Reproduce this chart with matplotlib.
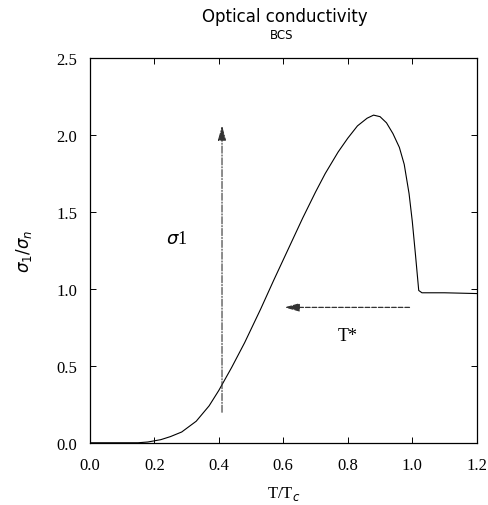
import matplotlib.pyplot as plt

# sigma_1 / sigma_n
t_ratio = [0.00, 0.10, 0.15, 0.18, 0.22, 0.25, 0.285, 0.33, 0.37, 0.40, 0.44,
           0.48, 0.53, 0.57, 0.61, 0.66, 0.70, 0.73, 0.77, 0.80, 0.83, 0.86,
           0.88, 0.90, 0.92, 0.94, 0.96, 0.975, 0.99, 1.00, 1.01, 1.02,
           1.03, 1.10, 1.20]
sigma = [0.00, 0.00, 0.00, 0.005, 0.02, 0.04, 0.07, 0.14, 0.24, 0.34, 0.49,
         0.65, 0.87, 1.055, 1.235, 1.46, 1.63, 1.75, 1.89, 1.98, 2.06, 2.11,
         2.13, 2.12, 2.08, 2.01, 1.92, 1.81, 1.62, 1.44, 1.22, 0.99,
         0.975, 0.975, 0.97]

plt.rcParams['font.family'] = 'Liberation Serif'
fig = plt.figure(figsize=(4.88, 5.06), dpi=100)
ax = fig.add_axes([0.184, 0.123, 0.793, 0.760])

ax.plot(t_ratio, sigma, color='black', lw=0.8)

# arrows and labels
ax.annotate('', xy=(0.41, 2.08), xytext=(0.41, 0.18),
            arrowprops=dict(arrowstyle='-|>,head_length=0.9,head_width=0.25',
                            color='#333333', lw=0.8, linestyle='-.'))
ax.annotate('', xy=(0.595, 0.88), xytext=(1.0, 0.88),
            arrowprops=dict(arrowstyle='-|>,head_length=0.9,head_width=0.25',
                            color='#333333', lw=0.9, linestyle='--'))
ax.text(0.27, 1.33, r'$\sigma$1', fontsize=13, ha='center', va='center')
ax.text(0.80, 0.70, 'T*', fontsize=13, ha='center', va='center')

ax.set_xlim(0, 1.2)
ax.set_ylim(0, 2.5)
ax.set_xticks([0.0, 0.2, 0.4, 0.6, 0.8, 1.0, 1.2])
ax.set_yticks([0.0, 0.5, 1.0, 1.5, 2.0, 2.5])
ax.tick_params(direction='in', top=True, right=True, length=4,
               labelsize=12, width=0.7)
ax.tick_params(axis='x', pad=10)
ax.tick_params(axis='y', pad=9)
for s in ax.spines.values():
    s.set_linewidth(0.9)

ax.set_xlabel(r'T/T$_c$', fontsize=12, labelpad=8)
ax.set_ylabel(r'$\sigma_1/\sigma_n$', fontsize=12, labelpad=16)

fig.text(0.584, 0.966, 'Optical conductivity', ha='center', va='center',
         fontsize=12, family='DejaVu Sans')
fig.text(0.577, 0.930, 'BCS', ha='center', va='center', fontsize=8.5,
         family='DejaVu Sans')

fig.savefig('out.png', dpi=100)
